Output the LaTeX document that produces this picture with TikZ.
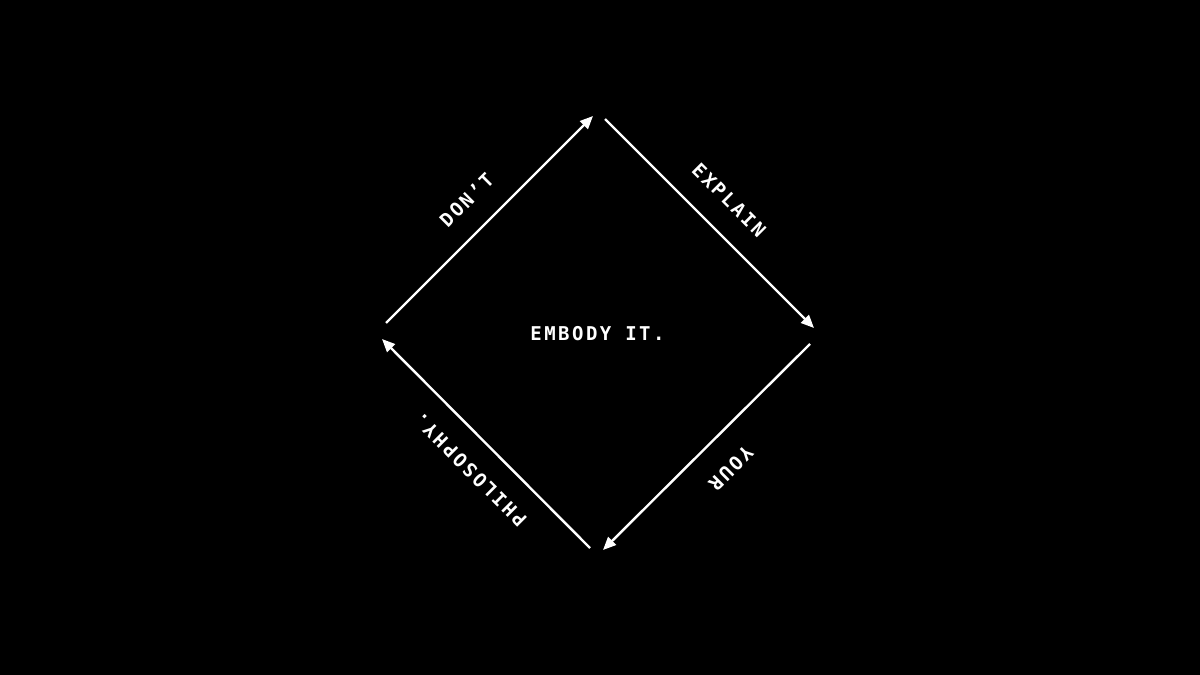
\documentclass[tikz,border=0pt]{standalone}
\usepackage{fontspec}
\usetikzlibrary{arrows.meta}
\newfontfamily\diafont[LetterSpace=13]{DejaVu Sans Mono}
\begin{document}
\begin{tikzpicture}[x=1pt,y=1pt,
  edge/.style={draw=white,line width=2.4pt,-{Triangle[length=13pt,width=11pt]}},
  lbl/.style={text=white,font=\diafont\bfseries\fontsize{19}{19}\selectfont,inner sep=0pt,anchor=center}]
\fill[black] (0,0) rectangle (1200,675);
\useasboundingbox (0,0) rectangle (1200,675);
% end points
\coordinate (a1s) at (386,352);
\coordinate (a1e) at (593,559);
\coordinate (a2s) at (605,556);
\coordinate (a2e) at (814,347);
\coordinate (a3s) at (810,331);
\coordinate (a3e) at (603,125);
\coordinate (a4s) at (590,127);
\coordinate (a4e) at (382,336);
% arrows
\draw[edge] (a1s) -- (a1e);
\draw[edge] (a2s) -- (a2e);
\draw[edge] (a3s) -- (a3e);
\draw[edge] (a4s) -- (a4e);
% labels
\node[lbl,rotate=45] (dont) at (466.5,475) {DON’T};
\node[lbl,rotate=-45] (explain) at (729,475) {EXPLAIN};
\node[lbl,rotate=225] (your) at (731,206.5) {YOUR};
\node[lbl,rotate=135] (philo) at (470,205) {PHILOSOPHY.};
\node[lbl] (center) at (597.5,341) {EMBODY IT.};
\end{tikzpicture}
\end{document}
